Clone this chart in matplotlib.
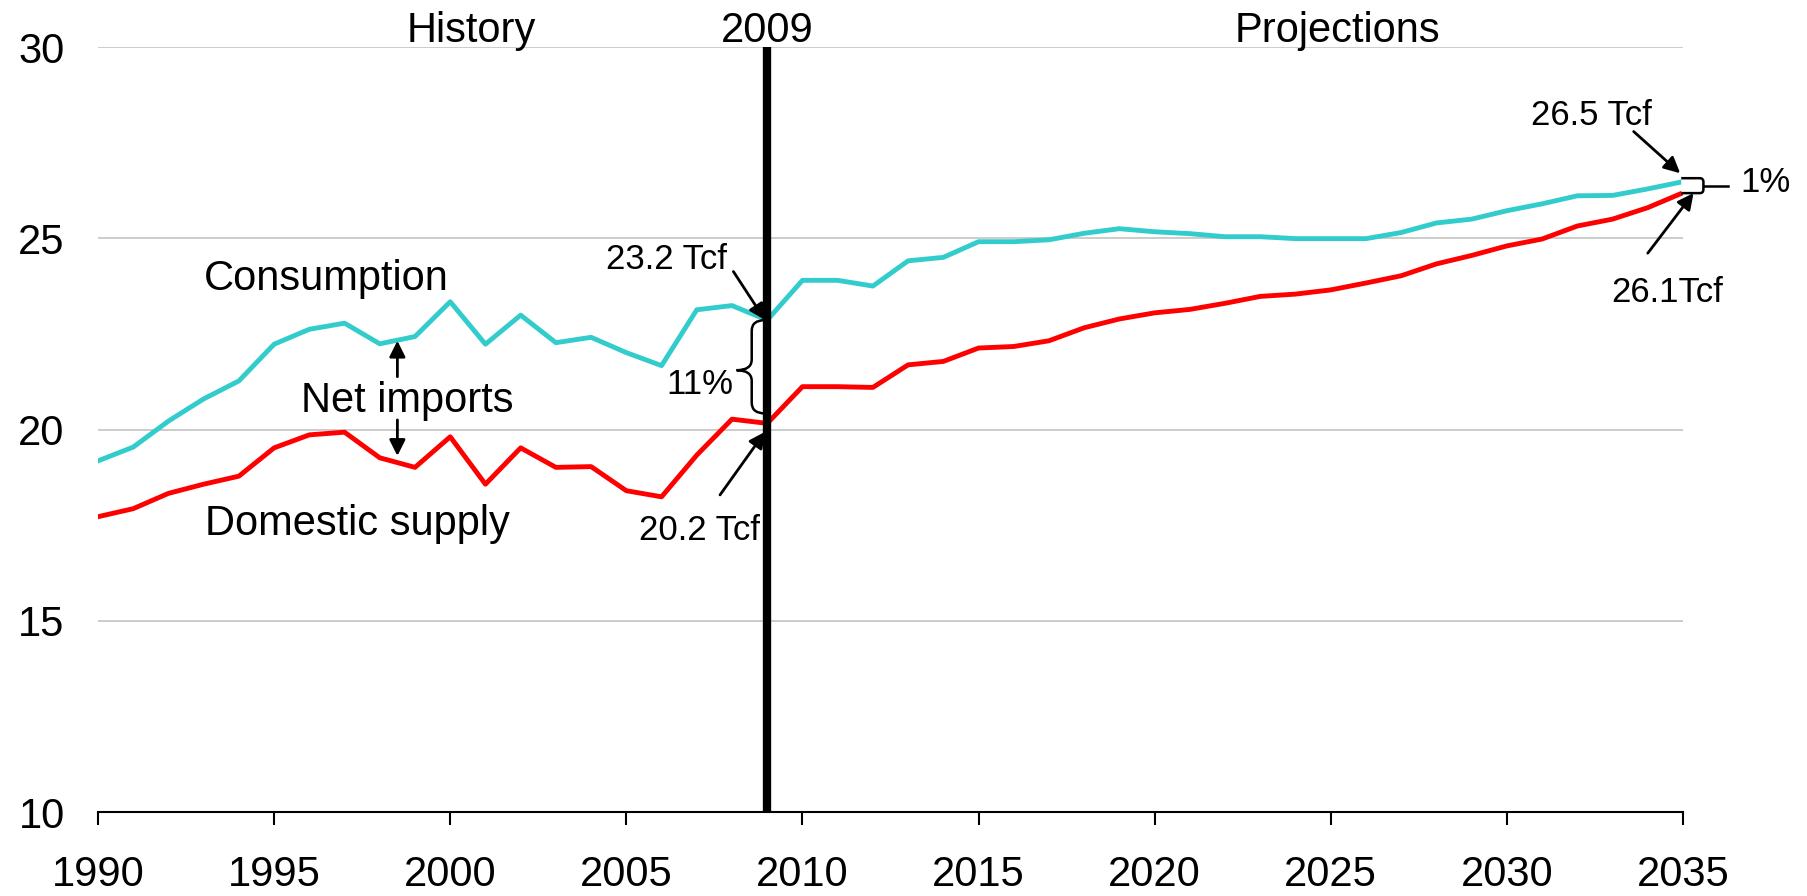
import numpy as np
import matplotlib
matplotlib.use('Agg')
import matplotlib.pyplot as plt
from matplotlib.path import Path
from matplotlib.patches import PathPatch

plt.rcParams['font.family'] = ['Liberation Sans', 'DejaVu Sans']

# data (Tcf)
years = list(range(1990, 2036))
consumption = [19.18, 19.54, 20.22, 20.80, 21.27, 22.23, 22.62, 22.78, 22.24, 22.43,
               23.34, 22.23, 22.99, 22.27, 22.41, 22.01, 21.67, 23.13, 23.24, 22.86,
               23.90, 23.90, 23.75, 24.41, 24.50, 24.91, 24.91, 24.96, 25.13, 25.25,
               25.17, 25.12, 25.04, 25.04, 24.99, 24.99, 24.99, 25.15, 25.40, 25.50,
               25.72, 25.90, 26.11, 26.12, 26.29, 26.48]
domestic = [17.72, 17.93, 18.33, 18.57, 18.78, 19.52, 19.86, 19.93, 19.26, 19.01,
            19.81, 18.57, 19.52, 19.01, 19.03, 18.40, 18.24, 19.33, 20.27, 20.16,
            21.12, 21.12, 21.10, 21.69, 21.78, 22.13, 22.17, 22.32, 22.66, 22.89,
            23.05, 23.14, 23.30, 23.48, 23.54, 23.65, 23.83, 24.02, 24.33, 24.55,
            24.80, 24.98, 25.32, 25.50, 25.80, 26.19]
xticks = [1990, 1995, 2000, 2005, 2010, 2015, 2020, 2025, 2030, 2035]
yticks = [10, 15, 20, 25, 30]

fig = plt.figure(figsize=(18.08, 8.96), dpi=100)
ax = fig.add_axes([0.0542, 0.09375, 0.87666, 0.85379])

ax.plot(years, consumption, color='#33CCCC', lw=3.5, zorder=3)
ax.plot(years, domestic, color='#FF0000', lw=3.5, zorder=3)
ax.axvline(2009, color='black', lw=6, zorder=4)

ax.set_xlim(1990, 2035)
ax.set_ylim(10, 30)
ax.set_xticks(xticks)
ax.set_yticks(yticks)
ax.yaxis.grid(True, color='#C8C8C8', lw=1.3)
ax.set_axisbelow(True)
for s in ['left', 'right', 'top']:
    ax.spines[s].set_visible(False)
ax.spines['bottom'].set_linewidth(1.5)
ax.tick_params(axis='x', direction='out', length=9, width=1.5, pad=22, labelsize=30)
ax.tick_params(axis='y', length=0, pad=24, labelsize=30)

# headings
ax.text(2000.6, 30.13, 'History', fontsize=30, ha='center', va='baseline', clip_on=False)
ax.text(2009, 30.13, '2009', fontsize=30, ha='center', va='baseline', clip_on=False)
ax.text(2025.2, 30.13, 'Projections', fontsize=30, ha='center', va='baseline', clip_on=False)

# series labels
ax.text(1993.0, 23.65, 'Consumption', fontsize=30, va='baseline')
ax.text(1995.75, 20.47, 'Net imports', fontsize=30, va='baseline')
ax.text(1993.05, 17.24, 'Domestic supply', fontsize=30, va='baseline')

arw = dict(arrowstyle='-|>', color='black', lw=2, mutation_scale=24, shrinkA=0, shrinkB=0)
ax.annotate('', xy=(1998.5, 22.32), xytext=(1998.5, 21.38), arrowprops=arw)
ax.annotate('', xy=(1998.5, 19.31), xytext=(1998.5, 20.25), arrowprops=arw)

# 2009 values
ax.text(2007.86, 24.2, '23.2 Tcf', fontsize=25, ha='right', va='baseline')
ax.annotate('', xy=(2008.94, 22.86), xytext=(2008.04, 24.13), arrowprops=arw, zorder=5)
ax.text(2008.8, 17.11, '20.2 Tcf', fontsize=25, ha='right', va='baseline')
ax.annotate('', xy=(2008.94, 19.94), xytext=(2007.66, 18.29), arrowprops=arw, zorder=5)
ax.text(2008.03, 20.93, '11%', fontsize=25, ha='right', va='baseline')

# curly brace between the two lines in 2009
xe, xm, xt = 2008.94, 2008.56, 2008.13
yt, yb, ymid, r = 22.86, 20.42, 21.55, 0.28
verts = [(xe, yt), (xm, yt), (xm, yt - r), (xm, ymid + r), (xm, ymid), (xt, ymid),
         (xm, ymid), (xm, ymid - r), (xm, yb + r), (xm, yb), (xe, yb)]
codes = [Path.MOVETO, Path.CURVE3, Path.CURVE3, Path.LINETO, Path.CURVE3, Path.CURVE3,
         Path.CURVE3, Path.CURVE3, Path.LINETO, Path.CURVE3, Path.CURVE3]
ax.add_patch(PathPatch(Path(verts, codes), fc='none', ec='black', lw=1.8, zorder=5))

# 2035 values
ax.text(2032.4, 27.96, '26.5 Tcf', fontsize=25, ha='center', va='baseline', clip_on=False)
ax.annotate('', xy=(2034.92, 26.70), xytext=(2033.6, 27.79), arrowprops=arw,
            annotation_clip=False, zorder=5)
ax.text(2034.55, 23.34, '26.1Tcf', fontsize=25, ha='center', va='baseline', clip_on=False)
ax.annotate('', xy=(2035.3, 26.18), xytext=(2034.0, 24.61), arrowprops=arw,
            annotation_clip=False, zorder=5)

# small bracket at 2035
bx0, bx1, by0, by1, br = 2034.95, 2035.58, 26.18, 26.57, 0.1
verts = [(bx0, by1), (bx1 - br, by1), (bx1, by1), (bx1, by1 - br), (bx1, by0 + br),
         (bx1, by0), (bx1 - br, by0), (bx0, by0)]
codes = [Path.MOVETO, Path.LINETO, Path.CURVE3, Path.CURVE3, Path.LINETO,
         Path.CURVE3, Path.CURVE3, Path.LINETO]
ax.add_patch(PathPatch(Path(verts, codes), fc='white', ec='black', lw=1.8,
                       zorder=6, clip_on=False))
ax.plot([2035.6, 2036.28], [26.36, 26.36], color='black', lw=1.8, clip_on=False, zorder=6)
ax.text(2036.62, 26.22, '1%', fontsize=25, va='baseline', clip_on=False)

fig.savefig('out.png', dpi=100)
